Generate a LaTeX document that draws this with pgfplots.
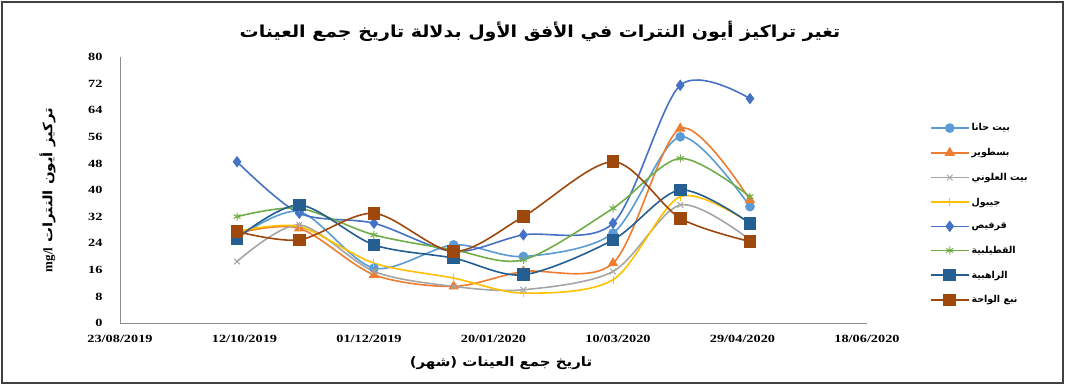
\documentclass[border=0pt]{standalone}
\usepackage{pgfplots}
\pgfplotsset{compat=1.18}
\usepackage{fontspec}
\setmainfont{Liberation Serif}
\newfontfamily\arabicfont[Script=Arabic]{DejaVu Sans}
\newfontfamily\arabicwide[Script=Arabic,FakeStretch=1.15]{DejaVu Sans}
\newfontfamily\tickfont[FakeStretch=1.3]{Liberation Serif}
\TeXXeTstate=1

% sampling days, counted from 23/08/2019
\pgfplotstableread{
day  hana  bastuwir alouni jibul qarfis qutay rahib waha
47   25.5  27.0     18.5   27.5  48.5   32.0  25.5  27.5
72   33.5  28.5     29.5   29.0  33.0   34.5  35.5  25.0
102  16.5  14.5     15.5   18.0  30.0   26.5  23.5  33.0
134  23.5  11.0     11.0   13.5  21.5   22.0  19.5  21.5
162  20.0  15.5     10.0    9.0  26.5   19.0  14.5  32.0
198  27.0  18.0     15.5   13.0  30.0   34.5  25.0  48.5
225  56.0  58.5     35.5   38.0  71.5   49.5  40.0  31.5
253  35.0  37.0     25.0   30.0  67.5   38.0  30.0  24.5
}\nitrate

\definecolor{cHana}{HTML}{5B9BD5}
\definecolor{cBast}{HTML}{ED7D31}
\definecolor{cAlou}{HTML}{A5A5A5}
\definecolor{cJibu}{HTML}{FFC000}
\definecolor{cQarf}{HTML}{4472C4}
\definecolor{cQuta}{HTML}{70AD47}
\definecolor{cRahi}{HTML}{255E91}
\definecolor{cWaha}{HTML}{9E480E}

\begin{document}
\begin{tikzpicture}
\path[use as bounding box] (0pt,0pt) rectangle (1065pt,385pt);
\draw[line width=1.5pt, black!75] (2pt,2pt) rectangle (1063pt,383pt);
\node at (540pt,354pt) {\arabicwide\bfseries\fontsize{16.5}{20}\selectfont\beginR تغير تراكيز أيون النترات في الأفق الأول بدلالة تاريخ جمع العينات\endR};
\begin{axis}[
  at={(120pt,62pt)}, anchor=south west,
  scale only axis, width=747pt, height=266pt,
  xmin=0, xmax=300, ymin=0, ymax=80,
  axis x line*=bottom, axis y line*=left,
  axis line style={black!45, line width=0.8pt},
  xtick={0,50,...,300},
  xticklabels={23/08/2019,12/10/2019,01/12/2019,20/01/2020,10/03/2020,29/04/2020,18/06/2020},
  ytick={0,8,...,80},
  major tick length=0pt,
  /pgf/number format/assume math mode=true,
  yticklabel style={font=\tickfont\bfseries\fontsize{11}{12}\selectfont, xshift=-14pt},
  xticklabel style={font=\tickfont\bfseries\fontsize{11}{12}\selectfont, yshift=-9pt},
  xlabel={\arabicwide\bfseries\fontsize{13}{15}\selectfont\beginR تاريخ جمع العينات (شهر)\endR},
  xlabel style={at={(axis description cs:0.51,-0.15)}, anchor=center},
  ylabel={\arabicwide\bfseries\fontsize{13}{15}\selectfont\beginR تركيز أيون النترات \beginL{\rmfamily mg/l}\endL\endR},
  ylabel style={at={(axis description cs:-0.097,0.5)}, anchor=center, rotate=0},
  every axis plot/.append style={smooth, line width=1.6pt},
  legend style={at={(rel axis cs:1.08,0.765)}, anchor=north west, draw=none, fill=none,
    font=\arabicfont\bfseries\fontsize{9.5}{11}\selectfont, row sep=12pt},
  legend cell align=left,
  legend image code/.code={\draw[mark repeat=2,mark phase=2] plot coordinates {(0pt,0pt)(19pt,0pt)(38pt,0pt)};},
]
\addplot[cHana, mark=*, mark size=4pt] table[x=day,y=hana]{\nitrate};
\addlegendentry{\beginR بيت حانا\endR}
\addplot[cBast, mark=triangle*, mark size=4.5pt] table[x=day,y=bastuwir]{\nitrate};
\addlegendentry{\beginR بسطوير\endR}
\addplot[cAlou, mark=x, mark size=4pt, mark options={line width=1pt}] table[x=day,y=alouni]{\nitrate};
\addlegendentry{\beginR بيت العلوني\endR}
\addplot[cJibu, mark=|, mark size=4pt, mark options={line width=1pt}] table[x=day,y=jibul]{\nitrate};
\addlegendentry{\beginR جيبول\endR}
\addplot[cQarf, mark=diamond*, mark size=4.5pt] table[x=day,y=qarfis]{\nitrate};
\addlegendentry{\beginR قرفيص\endR}
\addplot[cQuta, mark=asterisk, mark size=4pt, mark options={line width=1pt}] table[x=day,y=qutay]{\nitrate};
\addlegendentry{\beginR القطيلبية\endR}
\addplot[cRahi, mark=square*, mark size=5.5pt] table[x=day,y=rahib]{\nitrate};
\addlegendentry{\beginR الراهبية\endR}
\addplot[cWaha, mark=square*, mark size=5.5pt] table[x=day,y=waha]{\nitrate};
\addlegendentry{\beginR نبع الواحة\endR}
\end{axis}
\end{tikzpicture}
\end{document}
